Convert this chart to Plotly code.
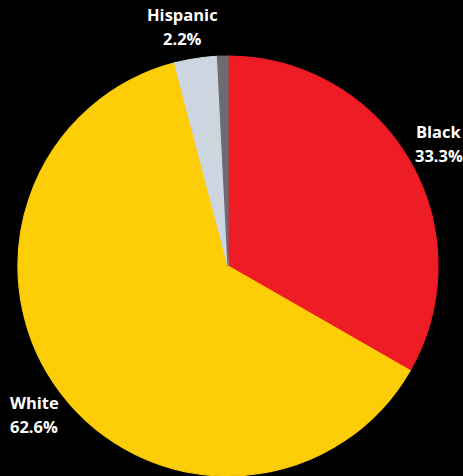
import math
import plotly.graph_objects as go

categories = ["Black", "White", "Hispanic", "Asian", "Other"]
values = [33.3, 62.6, 2.2, 1.1, 0.8]
show_label = [True, True, True, False, False]
colors = ["#EE1C25", "#FDCD07", "#CDD6E0", "#CDD6E0", "#6C6D73"]

W, H = 463, 476
CX, CY, R = 228, 266, 210  # pie centre / radius in pixels
LABEL_R = 1.162

fig = go.Figure(go.Pie(
    labels=categories,
    values=values,
    textinfo="none",
    sort=False,
    direction="clockwise",
    rotation=0,
    marker=dict(colors=colors, line=dict(width=1.2, color=colors)),
    hoverinfo="label+percent",
    domain=dict(x=[(CX - R) / W, (CX + R) / W], y=[(H - CY - R) / H, (H - CY + R) / H]),
    showlegend=False,
))

total = sum(values)
cum = 0.0
annotations = []
for c, v, s in zip(categories, values, show_label):
    mid = (cum + v / 2) / total * 2 * math.pi
    cum += v
    if not s:
        continue
    px = CX + R * LABEL_R * math.sin(mid)
    py = CY - R * LABEL_R * math.cos(mid)
    for txt, shift in ((c, 12), (f"{v}%", -12)):
        annotations.append(dict(
            x=px / W, y=1 - py / H, xref="paper", yref="paper",
            text=f"<b>{txt}</b>", showarrow=False, yshift=shift,
            xanchor="center", yanchor="middle",
            font=dict(family="Open Sans", size=16.5, color="white"),
        ))

fig.update_layout(
    width=W, height=H,
    margin=dict(l=0, r=0, t=0, b=0),
    paper_bgcolor="black",
    plot_bgcolor="black",
    showlegend=False,
    annotations=annotations,
)

fig.write_html("out.html")
